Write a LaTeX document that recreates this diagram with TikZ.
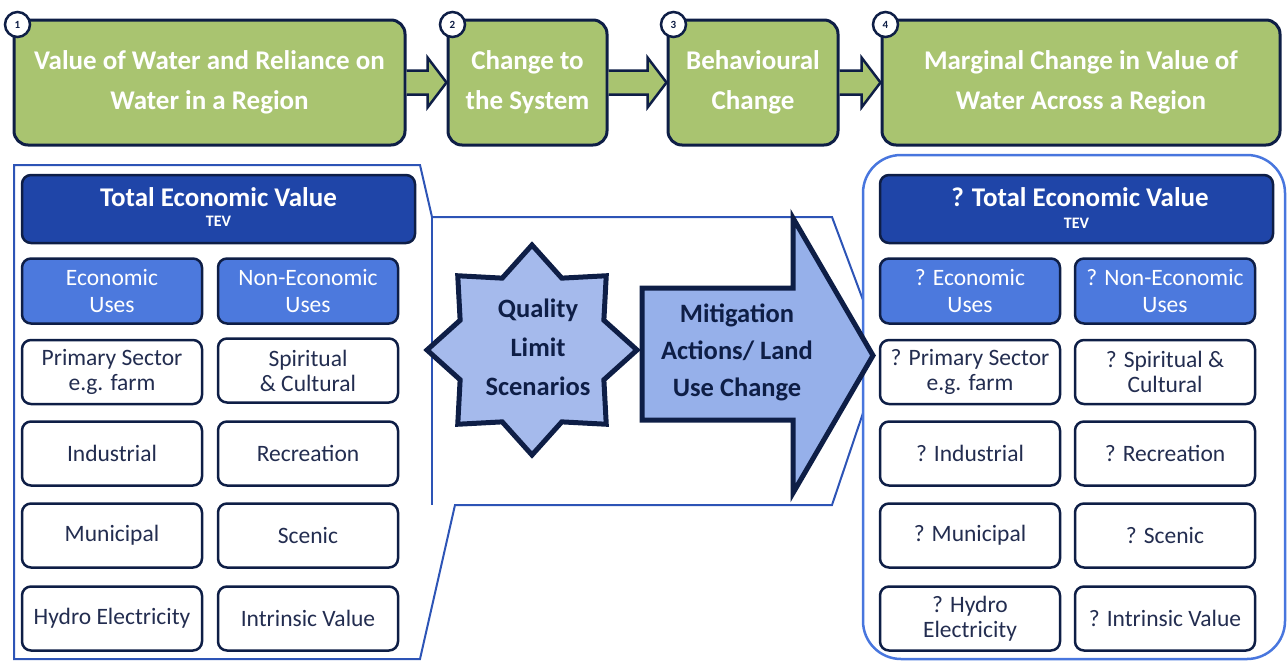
\documentclass[tikz,border=0pt]{standalone}
\usepackage{fontspec}
\setmainfont{Carlito}
\usetikzlibrary{calc,shapes.geometric}
\definecolor{navy}{RGB}{14,30,70}
\definecolor{tgreen}{RGB}{169,196,112}
\definecolor{tevblue}{RGB}{31,69,168}
\definecolor{usesblue}{RGB}{76,121,221}
\definecolor{calloutblue}{RGB}{45,84,182}
\definecolor{rpanelblue}{RGB}{72,118,222}
\definecolor{starfill}{RGB}{165,186,236}
\definecolor{arrowfill}{RGB}{150,176,234}
\definecolor{txt}{RGB}{35,45,80}
\tikzset{
  gbox/.style={draw=navy, fill=tgreen, line width=3pt, rounded corners=14pt, inner sep=0pt, align=center,
    text=white, font=\fontsize{27}{40}\selectfont\bfseries},
  garrow/.style={draw=navy, fill=tgreen, line width=2.5pt, line join=miter},
  numc/.style={circle, draw=navy, fill=white, line width=2.5pt, minimum size=25pt, inner sep=0pt,
    text=navy, font=\fontsize{11}{11}\selectfont\bfseries},
  tevbox/.style={draw=navy, fill=tevblue, line width=2.5pt, rounded corners=9pt, inner sep=0pt,
    minimum width=393pt, minimum height=68pt},
  tevtitle/.style={text=white, inner sep=0pt, font=\fontsize{27}{27}\selectfont\bfseries},
  tevsub/.style={text=white, inner sep=0pt, font=\fontsize{16}{16}\selectfont\bfseries},
  usebox/.style={draw=navy, fill=usesblue, line width=2.5pt, rounded corners=9pt, inner sep=0pt, align=center,
    text=white, minimum width=180pt, minimum height=65pt, font=\fontsize{23.5}{27}\selectfont},
  wbox/.style={draw=navy, fill=white, line width=2.5pt, rounded corners=9pt, inner sep=0pt, align=center,
    text=txt, minimum width=180pt, minimum height=64pt, font=\fontsize{23.5}{25}\selectfont},
  callout/.style={draw=calloutblue, line width=2pt, line join=miter},
  bigtxt/.style={align=center, text=navy, font=\fontsize{26.5}{37}\selectfont\bfseries},
}
\begin{document}
\begin{tikzpicture}[x=1pt,y=-1pt]
\useasboundingbox (0,0) rectangle (1288,662);

% ---- lower panels outlines
\draw[callout] (863,413) -- (832,505) -- (455,505) -- (420,659) -- (14,659) -- (14,165) -- (420,165)
   -- (432,217) -- (832,217) -- (863,300);
\draw[callout] (432,217) -- (432,505);
\draw[draw=rpanelblue, line width=2.5pt, rounded corners=38pt] (863,155) rectangle (1285,659);

% ---- top process boxes
\node[gbox, minimum width=391pt, minimum height=125pt] (b1) at (209.5,82.5) {Value of Water and Reliance on\\Water in a Region};
\node[gbox, minimum width=159pt, minimum height=125pt] (b2) at (527.5,82.5) {Change to\\the System};
\node[gbox, minimum width=170pt, minimum height=125pt] (b3) at (753,82.5) {Behavioural\\Change};
\node[gbox, minimum width=398pt, minimum height=125pt] (b4) at (1081,82.5) {Marginal Change in Value of\\Water Across a Region};

\foreach \a/\b in {b1/b2, b2/b3, b3/b4}{
  \draw[garrow] ($(\a.east)+(0,-12)$) -- ($(\b.west)+(-19,-12)$) -- ($(\b.west)+(-19,-25)$) -- (\b.west)
     -- ($(\b.west)+(-19,25)$) -- ($(\b.west)+(-19,12)$) -- ($(\a.east)+(0,12)$);
}

\node[numc] (n1) at ($(b1.north west)+(5,6)$) {1};
\node[numc] (n2) at ($(b2.north west)+(6,6)$) {2};
\node[numc] (n3) at ($(b3.north west)+(7,6)$) {3};
\node[numc] (n4) at ($(b4.north west)+(5,6)$) {4};

% ---- left panel
\node[tevbox] (ltev) at (218.5,209) {};
\node[tevtitle] (ltevt) at (218.5,197) {Total Economic Value};
\node[tevsub] (ltevs) at (218.5,221) {TEV};
\node[usebox] (leco) at (112,291) {Economic\\Uses};
\node[usebox] (lnon) at (308,291) {Non-Economic\\Uses};
\node[wbox] (lprim) at (112,372) {Primary Sector\\e.g. farm};
\node[wbox] (lspir) at (308,370.5) {Spiritual\\\& Cultural};
\node[wbox] (lind) at (112,453.5) {Industrial};
\node[wbox] (lrec) at (308,453.5) {Recreation};
\node[wbox] (lmun) at (112,535.5) {Municipal};
\node[wbox] (lsce) at (308,535.5) {Scenic};
\node[wbox] (lhyd) at (112,618.5) {Hydro Electricity};
\node[wbox] (lint) at (308,618.5) {Intrinsic Value};

% ---- right panel
\node[tevbox] (rtev) at (1076.5,209) {};
\node[tevtitle] (rtevt) at (1080,197) {? Total Economic Value};
\node[tevsub] (rtevs) at (1076.5,223) {TEV};
\node[usebox] (reco) at (970,291) {? Economic\\Uses};
\node[usebox] (rnon) at (1165,291) {? Non-Economic\\Uses};
\node[wbox] (rprim) at (970,372) {? Primary Sector\\e.g. farm};
\node[wbox] (rspir) at (1165,372) {? Spiritual \&\\Cultural};
\node[wbox] (rind) at (970,453.5) {? Industrial};
\node[wbox] (rrec) at (1165,453.5) {? Recreation};
\node[wbox] (rmun) at (970,535.5) {? Municipal};
\node[wbox] (rsce) at (1165,535.5) {? Scenic};
\node[wbox] (rhyd) at (970,618.5) {? Hydro\\Electricity};
\node[wbox] (rint) at (1165,618.5) {? Intrinsic Value};

% ---- star
\node[star, star points=8, star point ratio=1.35, minimum size=210pt, inner sep=0pt,
      draw=navy, fill=starfill, line width=5pt, line join=miter] (star) at (532,350) {};
\node[bigtxt, font=\fontsize{26.5}{39}\selectfont\bfseries] (startxt) at ($(star.center)+(6,-3)$) {Quality\\Limit\\Scenarios};

% ---- big arrow
\draw[draw=navy, fill=arrowfill, line width=5pt, line join=miter]
  (642,288) -- (793,288) -- (793,218) -- (873,355.5) -- (793,493) -- (793,420) -- (642,420) -- cycle;
\node[bigtxt] (arrtxt) at (737,352) {Mitigation\\Actions/ Land\\Use Change};
\end{tikzpicture}
\end{document}
